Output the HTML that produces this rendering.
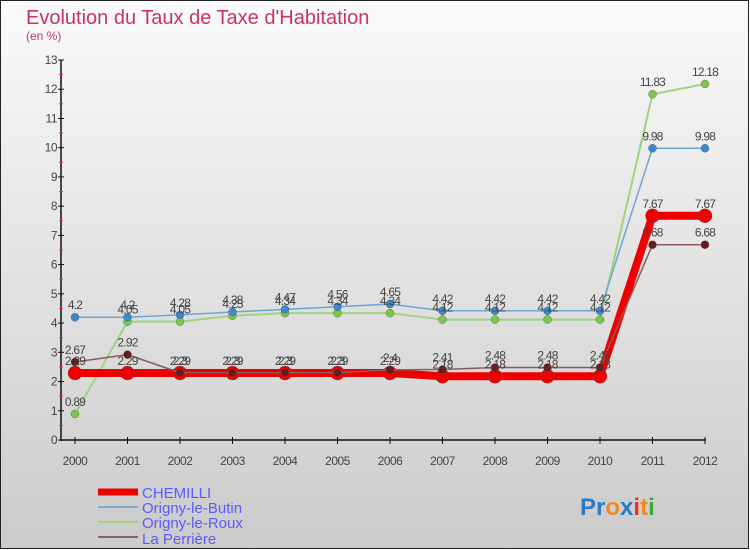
<!DOCTYPE html>
<html><head><meta charset="utf-8"><style>
body{margin:0;width:750px;height:550px;overflow:hidden;font-family:"Liberation Sans",sans-serif}
svg{display:block}
text{font-family:"Liberation Sans",sans-serif}
</style></head><body>
<svg id="chart" width="750" height="550" xmlns="http://www.w3.org/2000/svg">
<defs><linearGradient id="bg" x1="0" y1="0" x2="0" y2="1"><stop offset="0" stop-color="#fafafa"/><stop offset="1" stop-color="#cbcbcb"/></linearGradient></defs>
<rect x="0.5" y="0.5" width="748" height="548" fill="url(#bg)" stroke="#222"/>
<text x="26" y="24" font-size="20" fill="#c8336a">Evolution du Taux de Taxe d'Habitation</text>
<text x="26" y="40" font-size="12" fill="#c8336a">(en %)</text>
<g id="axes"></g><g id="series"></g><g id="labels"></g>
<g>
<line x1="98" y1="492" x2="138" y2="492" stroke="#e00" stroke-width="7"/>
<line x1="98" y1="507" x2="138" y2="507" stroke="#7aaed0" stroke-width="2"/>
<line x1="98" y1="522" x2="138" y2="522" stroke="#9ed47f" stroke-width="2"/>
<line x1="98" y1="537" x2="138" y2="537" stroke="#8c6060" stroke-width="2"/>
<g font-size="15" fill="#5a5aff">
<text x="142" y="498">CHEMILLI</text>
<text x="142" y="513">Origny-le-Butin</text>
<text x="142" y="528">Origny-le-Roux</text>
<text x="142" y="544">La Perrière</text>
</g></g>
<g font-size="24" font-weight="bold">
<text x="580" y="515"><tspan fill="#2a7ac8">Pr</tspan><tspan fill="#f08a1c">o</tspan><tspan fill="#2a7ac8">x</tspan><tspan fill="#e8341c">i</tspan><tspan fill="#f08a1c">t</tspan><tspan fill="#3aa83a">i</tspan></text>
</g>
</svg>
<script>
const years=[2000,2001,2002,2003,2004,2005,2006,2007,2008,2009,2010,2011,2012];
const chemilli=[2.29,2.29,2.29,2.29,2.29,2.29,2.29,2.18,2.18,2.18,2.18,7.67,7.67];
const butin=[4.2,4.2,4.28,4.38,4.47,4.56,4.65,4.42,4.42,4.42,4.42,9.98,9.98];
const roux=[0.89,4.05,4.05,4.25,4.34,4.34,4.34,4.12,4.12,4.12,4.12,11.83,12.18];
const perriere=[2.67,2.92,2.3,2.3,2.3,2.3,2.4,2.41,2.48,2.48,2.48,6.68,6.68];
const yTicks=[0,1,2,3,4,5,6,7,8,9,10,11,12,13];
const NS="http://www.w3.org/2000/svg";
const x0=75,x1=705,yb=440,yt=60,yMax=13;
function xs(i){return x0+i*(x1-x0)/(years.length-1);}
function ys(v){return yb-v*(yb-yt)/yMax;}
function mk(tag,at,parent){const e=document.createElementNS(NS,tag);for(const k in at)e.setAttribute(k,at[k]);parent.appendChild(e);return e;}
const axes=document.getElementById('axes'),ser=document.getElementById('series'),lab=document.getElementById('labels');
let a=mk('line',{x1:61,y1:yt,x2:61,y2:yb+1,stroke:'#111','stroke-width':1.5},axes);


a=mk('line',{x1:61,y1:yb,x2:x1+1,y2:yb,stroke:'#111','stroke-width':1.5},axes);


yTicks.forEach(v=>{
 mk('line',{x1:58,y1:ys(v),x2:64,y2:ys(v),stroke:'#111'},axes);
 if(v<yMax)mk('line',{x1:59,y1:ys(v+0.5),x2:63,y2:ys(v+0.5),stroke:'#e33'},axes);
 const t=mk('text',{x:57,y:ys(v)+4,'text-anchor':'end','font-size':12,fill:'#444','letter-spacing':'-0.5'},axes);
 t.textContent=v;
 
 
});
years.forEach((y,i)=>{
 mk('line',{x1:xs(i),y1:yb-3,x2:xs(i),y2:yb+4,stroke:'#111'},axes);
 const t=mk('text',{x:xs(i),y:yb+25,'text-anchor':'middle','font-size':12,fill:'#444','letter-spacing':'-0.5'},axes);
 t.textContent=y;
 
 
});
function draw(vals,name,color,w,r,dot){
 const g=mk('g',{},ser);
 
 
 const p=mk('polyline',{points:vals.map((v,i)=>xs(i)+','+ys(v)).join(' '),fill:'none',stroke:color,'stroke-width':w,'stroke-linejoin':'round'},g);
 
 
 vals.forEach((v,i)=>{
  const c=mk('circle',{cx:xs(i),cy:ys(v),r:r,fill:dot,stroke:'#555','stroke-width':0.4},g);
  
  
  const t=mk('text',{x:xs(i),y:ys(v)-8,'text-anchor':'middle','font-size':12,fill:'#444','letter-spacing':'-0.8'},lab);
  t.textContent=v;
  
  
 });
}
draw(roux,'roux','#9ed47f',2,4,'#7cc84a');
draw(butin,'butin','#6aa6d6',1.5,4,'#3a8ad0');
draw(chemilli,'chemilli','#ee0000',8,7,'#ee0000');
draw(perriere,'perriere','#8c5a5a',1.5,4,'#6a1a1a');
</script>
</body></html>
